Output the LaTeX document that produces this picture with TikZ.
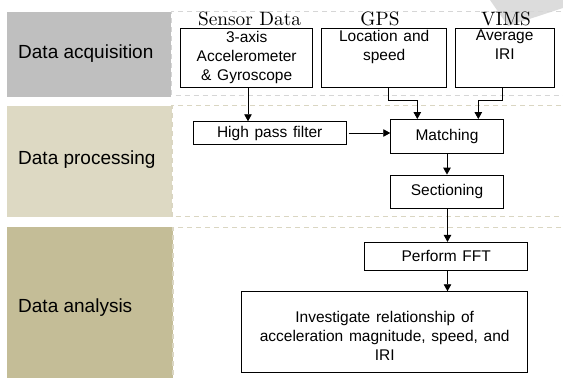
\documentclass[tikz,border=0pt]{standalone}
\usepackage{fontspec}
\newfontfamily\arial{Liberation Sans}
\newfontfamily\labelserif{lmroman10-regular.otf}
\usetikzlibrary{arrows.meta}

\definecolor{bandgray}{HTML}{BFBFBF}
\definecolor{bandtan}{HTML}{DDD9C3}
\definecolor{bandkhaki}{HTML}{C4BD97}
\definecolor{dashgray}{HTML}{D6D6D6}
\definecolor{dashtan}{HTML}{DAD6C2}
\definecolor{shadow}{HTML}{DCDCDC}

% box text: Arial-width sans with slightly loose word spacing
\newcommand\procfont{\arial\fontsize{15.5}{19}\selectfont\spaceskip=0.37em plus 0.1em\relax}

\tikzset{
  bandframe/.style={line width=1.3pt, dash pattern=on 5pt off 4pt},
  bandlabel/.style={anchor=west, inner sep=0pt, font=\arial\fontsize{19}{22}\selectfont},
  source/.style={anchor=base, inner sep=0pt, font=\labelserif\fontsize{19.3}{22}\selectfont},
  proc/.style={draw=black, line width=0.9pt, inner sep=0pt, align=center, font=\procfont},
  proctext/.style={inner sep=0pt, align=center, font=\procfont},
  arr/.style={line width=0.9pt, -{Triangle[length=7pt,width=7.5pt]}}
}

\begin{document}
\begin{tikzpicture}[x=1pt,y=-1pt]
\useasboundingbox (0,0) rectangle (563,378);

% faint shape at the upper right corner
\fill[shadow] (490,0) -- (563,0) -- (563,8) -- (508,26) -- cycle;

% stage bands
\fill[bandgray]  (7,11.7)  rectangle (170.7,96.7);
\fill[bandtan]   (7,106)   rectangle (171.5,216.7);
\fill[bandkhaki] (7,227.3) rectangle (172.5,380);
\draw[bandframe, dashgray] (570,11.7) -- (171.7,11.7) -- (171.7,95.5) -- (570,95.5);
\draw[bandframe, dashtan]  (570,105.5) -- (172,105.5) -- (172,216.7) -- (570,216.7);
\draw[bandframe, dashtan]  (570,227.3) -- (173,227.3) -- (173,380);

\node[bandlabel] (lacq)  at (18,53.3)  {Data acquisition};
\node[bandlabel] (lproc) at (18,160)   {Data processing};
\node[bandlabel] (lana)  at (18,307.3) {Data analysis};

% data sources
\node[source] (tsensor) at (249.5,25.5) {Sensor Data};
\node[source] (tgps)    at (380,25.5)   {GPS};
\node[source] (tvims)   at (506,25.5)   {VIMS};

\node[proc, minimum width=132pt, minimum height=59pt] (sensor) at (246.7,57.5)
  {3-axis\\Accelerometer\\\& Gyroscope};
\node[proc, minimum width=125pt, minimum height=59pt] (gps) at (384.2,57.5)
  {Location and\\speed\\\strut};
\node[proc, minimum width=99.3pt, minimum height=59pt] (vims) at (504.7,57.5)
  {Average\\IRI\\\strut};

% processing steps
\node[proc, minimum width=152.7pt, minimum height=22.6pt] (hpf) at (269.7,133) {High pass filter};
\node[proc, minimum width=112.6pt, minimum height=34pt] (match) at (447,136.5) {Matching};
\node[proc, minimum width=112.6pt, minimum height=33.3pt] (sect) at (447,191.7) {Sectioning};

% analysis steps
\node[proc, minimum width=163.3pt, minimum height=27.7pt] (fft) at (446.2,256.2) {Perform FFT};
\node[proc, minimum width=286pt, minimum height=81pt] (inv) at (384.7,332.2) {};
\node[proctext] (invtext) at ([yshift=-4pt]inv.center)
  {Investigate relationship of\\acceleration magnitude, speed, and\\IRI};

% connectors
\draw[arr] ([xshift=1.3pt]sensor.south) -- ([xshift=1.3pt]sensor.south |- hpf.north);
\draw[arr] ([xshift=3.8pt]gps.south) |- (417.3,100.7) -- ([xshift=-29.7pt]match.north);
\draw[arr] ([xshift=-2pt]vims.south) |- (478.3,100.7) -- ([xshift=31.3pt]match.north);
\draw[arr] ([xshift=2pt]hpf.east) -- (hpf.east -| match.west);
\draw[arr] (match.south) -- (sect.north);
\draw[arr] ([xshift=0.5pt]sect.south) -- ([xshift=0.5pt]sect.south |- fft.north);
\draw[arr] ([xshift=0.5pt]sect.south |- fft.south) -- ([xshift=0.5pt]sect.south |- inv.north);
\end{tikzpicture}
\end{document}
